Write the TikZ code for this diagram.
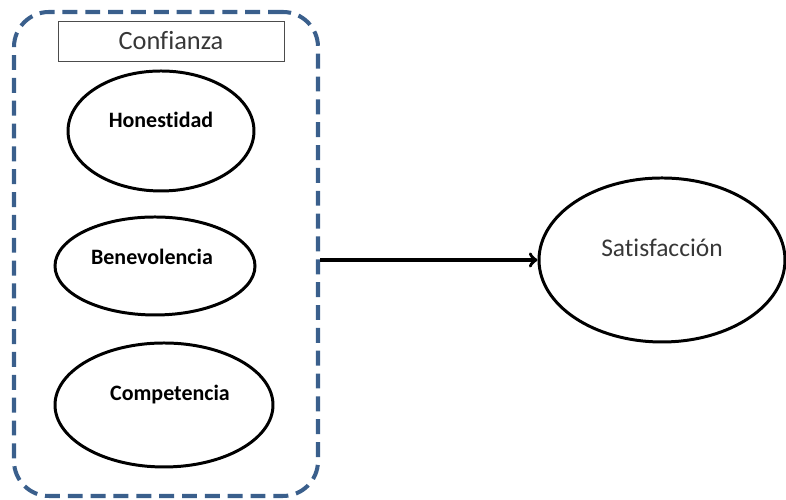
\documentclass[tikz,border=0pt]{standalone}
\usepackage{fontspec}
\setmainfont{Carlito}[Ligatures=NoCommon]
\usetikzlibrary{shapes.geometric, positioning, arrows}

\definecolor{dashblue}{RGB}{58,95,140}
\definecolor{textgray}{RGB}{55,55,55}

\begin{document}
\begin{tikzpicture}[>=to, auto, semithick,
    group/.style={draw=dashblue, line width=2.3pt, dash pattern=on 8.5pt off 4.5pt,
        rounded corners=0.7cm, minimum width=6.08cm, minimum height=9.68cm},
    headbox/.style={draw=black!70, thin, minimum width=4.52cm, minimum height=0.8cm,
        font=\fontsize{15}{17}\selectfont, text=textgray},
    factor/.style={ellipse, draw, line width=1.7pt},
    factorlabel/.style={font=\fontsize{12.5}{14}\selectfont\bfseries}]
    \useasboundingbox (0,0) rectangle (15.72,10);

    \node[group] (trust) at (3.32,4.92) {};
    \node[headbox] (conf) at (3.42,9.18) {Confianza};

    \node[factor, minimum width=3.72cm, minimum height=2.4cm] (hon) at (3.22,7.38) {};
    \node[factor, minimum width=4.0cm, minimum height=1.96cm] (ben) at (3.10,4.68) {};
    \node[factor, minimum width=4.36cm, minimum height=2.48cm] (com) at (3.28,1.9) {};
    \node[factor, minimum width=4.92cm, minimum height=3.28cm] (sat) at (13.24,4.8) {};

    \node[factorlabel] (honT) at ([yshift=0.22cm]hon.center) {Honestidad};
    \node[factorlabel] (benT) at ([xshift=-0.06cm, yshift=0.18cm]ben.center) {Benevolencia};
    \node[factorlabel] (comT) at ([xshift=0.12cm, yshift=0.2cm]com.center) {Competencia};
    \node[font=\fontsize{14.5}{16}\selectfont, text=textgray] (satT) at ([yshift=0.24cm]sat.center) {Satisfacción};

    \path[->, line width=2pt]
    (trust.east |- sat.west) edge (sat.west);
\end{tikzpicture}
\end{document}
